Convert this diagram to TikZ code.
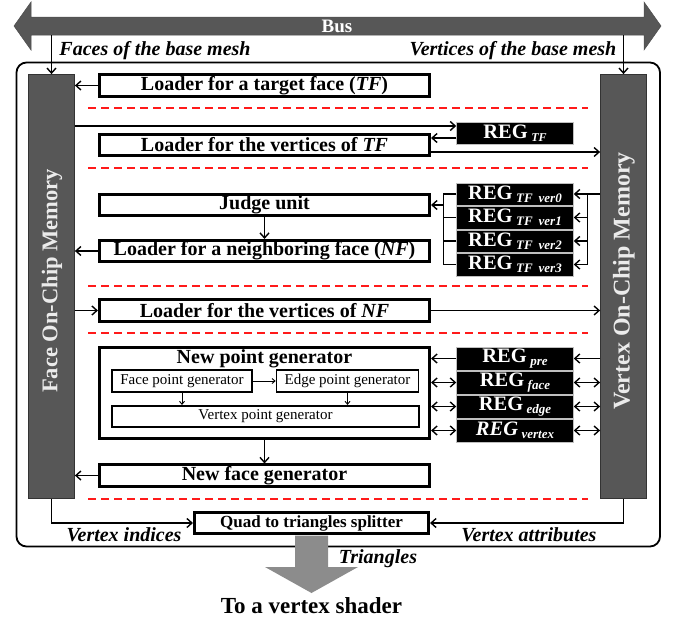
\documentclass[tikz,border=0pt]{standalone}
\usepackage{fontspec}
\setmainfont{Liberation Serif}
\usetikzlibrary{arrows.meta}
\newcommand\myfs[1]{\fontsize{#1}{#1}\selectfont}
\newcommand\regsub[2][13]{\,\raisebox{-3pt}{\myfs{#1}\bfseries\itshape #2}}
\definecolor{memgray}{HTML}{575757}
\definecolor{arrgray}{HTML}{8C8C8C}
\definecolor{dashred}{HTML}{FF1A1A}
\begin{document}
\begin{tikzpicture}[x=1pt,y=-1pt,
  arr/.style={line width=1.4pt,-{Straight Barb[length=5pt,width=9pt]}},
  darr/.style={line width=1.4pt,{Straight Barb[length=5pt,width=9pt]}-{Straight Barb[length=5pt,width=9pt]}},
  sarr/.style={line width=0.9pt,-{Straight Barb[length=3pt,width=5pt]}},
  plain/.style={line width=1.4pt},
  mainbox/.style={draw,line width=2.6pt,fill=white,minimum width=330.5pt,minimum height=21.5pt,inner sep=0pt,font=\myfs{20}\bfseries},
  inbox/.style={draw,line width=1.6pt,fill=white,inner sep=0pt,minimum height=22pt,font=\myfs{15}},
  regbox/.style={fill=black,draw=white!75!black,line width=0.5pt,minimum width=117pt,minimum height=22.5pt,inner sep=0pt,text=white,font=\myfs{20.5}\bfseries},
  mem/.style={draw=black!80,line width=0.8pt,fill=memgray,minimum width=46pt,minimum height=424pt,inner sep=0pt},
  memtext/.style={rotate=90,text=white!92!black,font=\myfs{24}\bfseries,inner sep=0pt},
  lbl/.style={font=\myfs{20}\bfseries\itshape,inner sep=0pt},
  dashline/.style={draw=dashred,line width=1.2pt,dash pattern=on 8pt off 5pt}
]
\useasboundingbox (0,0) rectangle (675,621);
% bus
\fill[memgray,draw=black!70,line width=0.5pt] (14,26) -- (31,2) -- (31,17) -- (644,17) -- (644,2) -- (661,26) -- (644,50) -- (644,35) -- (31,35) -- (31,50) -- cycle;
\node[text=white,font=\myfs{19}\bfseries,anchor=base,inner sep=0pt] (bus) at (337,32) {Bus};
\node[lbl,anchor=base] (lfaces) at (155,55) {Faces of the base mesh};
\node[lbl,anchor=base] (lverts) at (513,55) {Vertices of the base mesh};
% outer frame
\draw[line width=1.8pt,rounded corners=10pt] (16.5,62.5) rectangle (660,546.5);
% memories
\node[mem] (facemem) at (51.5,286.5) {};
\node[memtext,font=\myfs{22.5}\bfseries] (facelabel) at (52,281) {Face On-Chip Memory};
\node[mem] (vertmem) at (623.5,286.5) {};
\node[memtext] (vertlabel) at (624,281) {Vertex On-Chip Memory};
\coordinate (busL) at (51.5,35);
\coordinate (busR) at (623.5,35);
\draw[arr] (busL) -- (facemem.north);
\draw[arr] (busR) -- (vertmem.north);
% dashed separators
\foreach \yy in {108,168,286,333,499} \draw[dashline] (88,\yy) -- (588,\yy);
% main boxes
\node[mainbox] (ltf) at (264.5,85.5) {Loader for a target face (\textit{TF})};
\node[mainbox] (lvtf) at (264.5,145) {Loader for the vertices of \textit{TF}};
\node[mainbox] (judge) at (264.5,205) {Judge unit};
\node[mainbox] (nfl) at (264.5,251) {Loader for a neighboring face (\textit{NF})};
\node[mainbox] (lvnf) at (264.5,310.5) {Loader for the vertices of \textit{NF}};
\node[mainbox,minimum height=91.5pt] (npg) at (264.5,393) {};
\node[font=\myfs{20}\bfseries,anchor=base,inner sep=0pt] (npgtitle) at (264.5,363.5) {New point generator};
\node[inbox,minimum width=140pt] (fpg) at (182,381) {Face point generator};
\node[inbox,minimum width=142pt] (epg) at (347.5,381) {Edge point generator};
\node[inbox,minimum width=307pt,minimum height=21.5pt] (vpg) at (265.5,416.5) {Vertex point generator};
\node[mainbox] (nfg) at (264.5,475.5) {New face generator};
\node[mainbox,minimum width=234.5pt,font=\myfs{17}\bfseries] (split) at (311.5,523) {Quad to triangles splitter};
% registers
\node[regbox,minimum height=22pt] (regtf) at (515,133) {REG\regsub[12]{TF}};
\node[regbox] (reg0) at (515,194) {REG\regsub{TF\hspace{6pt}ver0}};
\node[regbox] (reg1) at (515,217.5) {REG\regsub{TF\hspace{6pt}ver1}};
\node[regbox] (reg2) at (515,241) {REG\regsub{TF\hspace{6pt}ver2}};
\node[regbox] (reg3) at (515,264.5) {REG\regsub{TF\hspace{6pt}ver3}};
\node[regbox] (regpre) at (515,358.5) {REG\regsub{pre}};
\node[regbox] (regface) at (515,382.5) {REG\regsub{face}};
\node[regbox] (regedge) at (515,406.5) {REG\regsub{edge}};
\node[regbox] (regvertex) at (515,430.5) {\textit{REG}\regsub{vertex}};
% connectors, top part
\draw[arr] (ltf.west) -- (ltf.west -| facemem.east);
\coordinate (a1) at ([yshift=7pt]regtf.west);
\draw[arr] (a1 -| facemem.east) -- (a1);
\coordinate (a2) at ([yshift=-5pt]regtf.west);
\draw[arr] (a2) -- (a2 -| lvtf.east);
\coordinate (a3) at ([yshift=-7pt]lvtf.east);
\draw[arr] (a3) -- (a3 -| vertmem.west);
% judge and vertex registers
\draw[arr] (judge.south) -- (nfl.north);
\draw[arr] (nfl.west) -- (nfl.west -| facemem.east);
\coordinate (rj) at ([xshift=13.5pt]reg0.east);
\draw[arr] (reg0.east -| vertmem.west) -- (reg0.east);
\draw[plain] (rj) -- (rj |- reg3.east);
\foreach \r in {reg1,reg2,reg3} \draw[arr] (rj |- \r.east) -- (\r.east);
\coordinate (lj) at ([xshift=-13pt]reg0.west);
\draw[plain] (reg0.west) -- (lj) -- (lj |- reg3.west) -- (reg3.west);
\draw[plain] (reg1.west) -- (lj |- reg1.west);
\draw[plain] (reg2.west) -- (lj |- reg2.west);
\draw[arr] (lj |- judge.east) -- (judge.east);
% loader for vertices of NF
\draw[arr] (lvnf.west -| facemem.east) -- (lvnf.west);
\draw[arr] (lvnf.east) -- (lvnf.east -| vertmem.west);
% new point generator
\draw[arr] (regpre.east -| vertmem.west) -- (regpre.east);
\draw[arr] (regpre.west) -- (regpre.west -| npg.east);
\foreach \r in {regface,regedge,regvertex} {
  \draw[darr] (\r.west -| npg.east) -- (\r.west);
  \draw[darr] (\r.east) -- (\r.east -| vertmem.west);
}
\draw[sarr] (fpg.east) -- (epg.west);
\draw[sarr] (fpg.south) -- (fpg.south |- vpg.north);
\draw[sarr] (epg.south) -- (epg.south |- vpg.north);
\draw[arr] (npg.south) -- (nfg.north);
\draw[arr] (nfg.west) -- (nfg.west -| facemem.east);
% bottom
\draw[arr] (facemem.south) |- (split.west);
\draw[arr] (vertmem.south) |- (split.east);
\node[lbl,anchor=base] (lvi) at (124,541) {Vertex indices};
\node[lbl,anchor=base] (lva) at (529,541) {Vertex attributes};
% output arrow
\fill[arrgray] (295,535.5) -- (328,535.5) -- (328,567) -- (358,567) -- (311.5,593) -- (265,567) -- (295,567) -- cycle;
\node[lbl,anchor=base] (ltri) at (378,563) {Triangles};
\node[font=\myfs{23}\bfseries,anchor=base,inner sep=0pt] (shader) at (311.5,613) {To a vertex shader};
\end{tikzpicture}
\end{document}
